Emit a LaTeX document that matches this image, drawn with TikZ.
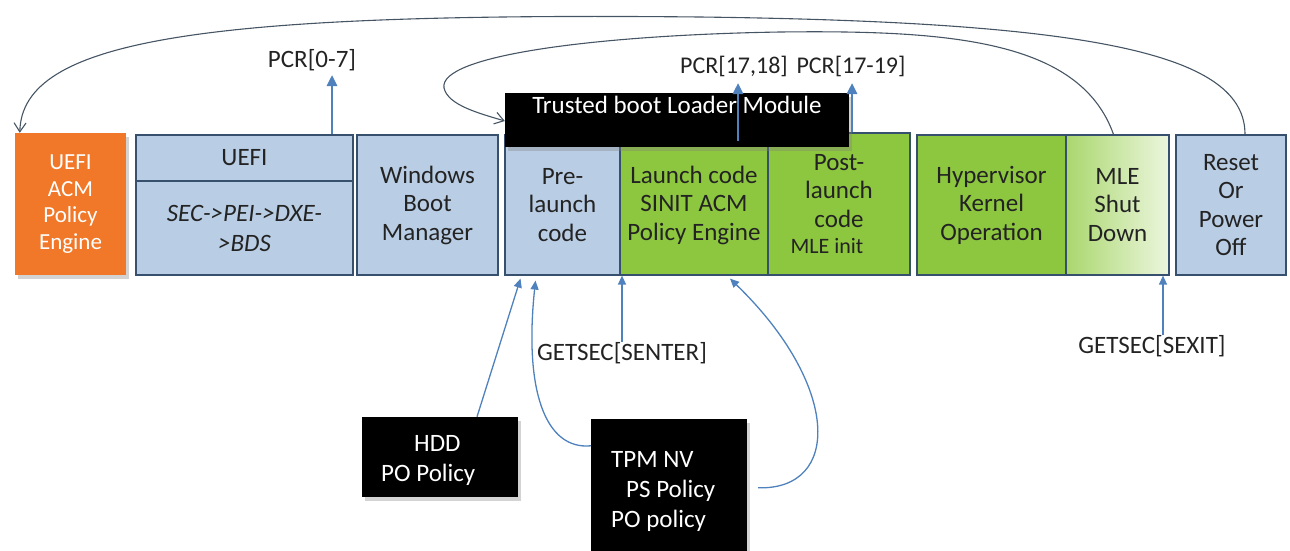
\documentclass[tikz,border=0pt]{standalone}
\usepackage{fontspec}
\setmainfont{Carlito}
\usetikzlibrary{arrows.meta,shadows}
\definecolor{boxblue}{RGB}{185,205,229}
\definecolor{boxline}{RGB}{55,80,110}
\definecolor{leaf}{RGB}{141,198,63}
\definecolor{leafpale}{RGB}{236,246,222}
\definecolor{leafmid}{RGB}{170,215,110}
\definecolor{ember}{RGB}{240,120,40}
\definecolor{flow}{RGB}{79,129,189}
\definecolor{loopline}{RGB}{70,85,100}
\definecolor{ink}{RGB}{35,35,35}
\begin{document}
\begin{tikzpicture}[x=1pt,y=-1pt,
  font=\fontsize{25}{28.5}\selectfont,
  box/.style={draw=boxline, line width=1.2pt, inner sep=0pt, align=center, text=ink},
  bluebox/.style={box, fill=boxblue},
  greenbox/.style={box, fill=leaf},
  orangebox/.style={fill=ember, inner sep=0pt, align=center, text=white,
    drop shadow={shadow xshift=3pt, shadow yshift=-4pt, opacity=0.35}},
  blackbox/.style={fill=black, inner sep=0pt, text=white,
    drop shadow={shadow xshift=3pt, shadow yshift=-4pt, opacity=0.35}},
  whitetext/.style={text=white, inner sep=0pt, align=left},
  plain/.style={text=ink, inner sep=0pt},
  pcrarrow/.style={draw=flow, line width=2.6pt, -{Triangle[length=11pt,width=10pt]}},
  feedarrow/.style={draw=flow, line width=1.3pt, -{Triangle[length=9pt,width=8pt]}},
  looparrow/.style={draw=loopline, line width=1.1pt, -{Straight Barb[length=9pt,width=12pt]}},
]
\useasboundingbox (0,0) rectangle (1290,550);

% boot stages
\node[orangebox, minimum width=111pt, minimum height=142pt, font=\fontsize{23}{26.5}\selectfont] (acm) at (70.5,204)
  {UEFI\\ACM\\Policy\\Engine};
\node[bluebox, minimum width=217pt, minimum height=46pt] (uefi) at (244.5,158) {UEFI};
\node[bluebox, minimum width=217pt, minimum height=94pt, font=\fontsize{25}{30}\selectfont\itshape] (phases) at (244.5,228)
  {SEC->PEI->DXE-\\>BDS};
\node[bluebox, minimum width=141pt, minimum height=140pt] (wbm) at (427.5,205)
  {Windows\\Boot\\Manager};
\node[bluebox, minimum width=115pt, minimum height=140pt] (prel) at (562.5,205)
  {Pre-\\launch\\code};
\node[greenbox, minimum width=148pt, minimum height=140pt] (launch) at (694,205)
  {Launch code\\SINIT ACM\\Policy Engine};
\node[greenbox, minimum width=142pt, minimum height=142pt] (post) at (839,204)
  {Post-\\launch\\code\\[-2pt]\hspace*{-24pt}{\fontsize{22}{26}\selectfont MLE init}};
\node[greenbox, minimum width=149pt, minimum height=140pt] (hyp) at (991.5,205)
  {Hypervisor\\Kernel\\Operation};
\node[box, left color=leafmid, right color=leafpale, minimum width=103pt, minimum height=140pt] (mle) at (1117.5,205)
  {MLE\\Shut\\Down};
\node[bluebox, minimum width=110pt, minimum height=140pt] (reset) at (1231,205)
  {Reset\\Or\\Power\\Off};

% trusted boot loader banner
\node[blackbox, minimum width=344pt, inner ysep=3pt, text height=17pt, text depth=31pt] (tblm) at (677,120)
  {Trusted boot Loader Module};

% policy stores
\node[blackbox, minimum width=156pt, minimum height=80pt] (hdd) at (440,457) {};
\node[whitetext, anchor=west, font=\fontsize{25}{30}\selectfont] (hddtext) at (381,460)
  {\hspace*{33pt}HDD\\PO Policy};
\node[blackbox, minimum width=156pt, minimum height=150pt] (tpm) at (669,494) {};
\node[whitetext, anchor=north west, font=\fontsize{25}{30}\selectfont] (tpmtext) at (611,451)
  {TPM NV\\\hspace*{15pt}PS Policy\\PO policy};

% measurement labels
\node[plain] (pcr07) at (312,60) {PCR[0-7]};
\node[plain, font=\fontsize{24}{28}\selectfont] (pcr1718) at (734,66) {PCR[17,18]};
\node[plain, font=\fontsize{24}{28}\selectfont] (pcr1719) at (851,66) {PCR[17-19]};
\node[plain] (senter) at (622,353) {GETSEC[SENTER]};
\node[plain] (sexit) at (1152,346) {GETSEC[SEXIT]};

\coordinate (t07) at (332,75);
\coordinate (t1718) at (738,83);
\coordinate (t1719) at (852,83);

% PCR extends
\draw[pcrarrow] (t07 |- uefi.north) -- (t07);
\draw[pcrarrow] (738,141) -- (t1718);
\draw[pcrarrow] (t1719 |- post.north) -- (t1719);

% GETSEC leaves
\draw[feedarrow] (senter.north) -- (senter.north |- prel.south);
\draw[feedarrow] ([xshift=11pt]sexit.north) -- ([xshift=11pt]sexit.north |- mle.south);

% policy feeds
\draw[feedarrow] ([xshift=37pt]hdd.north) -- ([xshift=-42pt,yshift=-3pt]prel.south);
\draw[feedarrow] ([yshift=-27pt]tpm.north west) .. controls (545,450) and (524,390) .. ([xshift=-27pt,yshift=-5pt]prel.south);
\draw[feedarrow] ([xshift=11pt,yshift=-69pt]tpm.north east) .. controls (842,490) and (840,385) .. ([xshift=36pt,yshift=-3pt]launch.south);

% loops back over the top
\draw[looparrow] ([xshift=14pt]reset.north) .. controls (1245,55) and (1100,22) .. (700,17)
  .. controls (200,12) and (22,40) .. ([xshift=5pt]acm.north west);
\draw[looparrow] ([xshift=-4pt]mle.north) .. controls (1080,40) and (950,30) .. (780,32)
  .. controls (600,35) and (438,55) .. (444,88)
  .. controls (448,105) and (478,113) .. ([yshift=-3pt]tblm.west |- 0,118);
\end{tikzpicture}
\end{document}
